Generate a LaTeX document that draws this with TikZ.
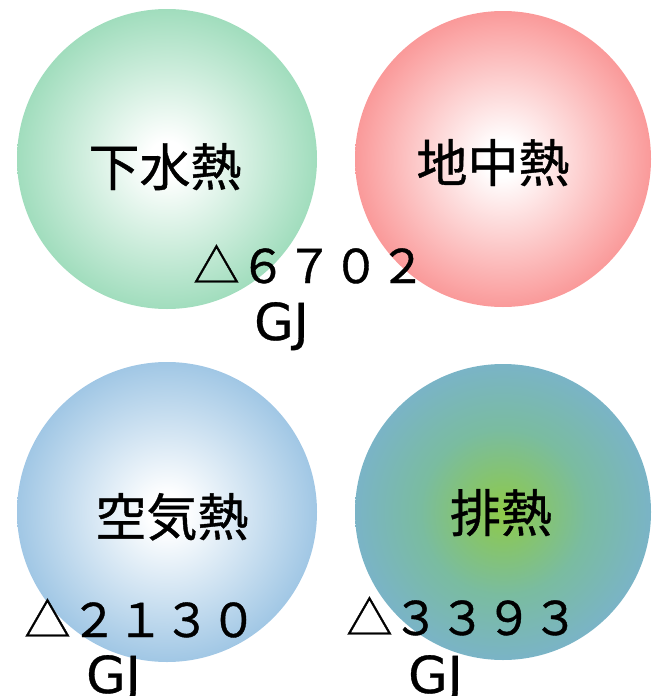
\documentclass[tikz,border=0pt]{standalone}
\usepackage{fontspec}
\newfontfamily\cjk[FakeBold=0.8]{Noto Sans CJK JP}
\newfontfamily\latn[FakeBold=0.6]{DejaVu Sans}
\definecolor{greenout}{RGB}{122,207,162}
\definecolor{redout}{RGB}{248,112,112}
\definecolor{blueout}{RGB}{122,176,218}
\definecolor{ballblue}{RGB}{122,176,216}
\definecolor{ballmid}{RGB}{122,188,160}
\definecolor{ballcore}{RGB}{142,202,72}
\pgfdeclareradialshading{greenball}{\pgfpointorigin}{color(0bp)=(white);color(3bp)=(white);color(34bp)=(greenout);color(50bp)=(greenout)}
\pgfdeclareradialshading{redball}{\pgfpointorigin}{color(0bp)=(white);color(3bp)=(white);color(34bp)=(redout);color(50bp)=(redout)}
\pgfdeclareradialshading{blueball}{\pgfpointorigin}{color(0bp)=(white);color(3bp)=(white);color(34bp)=(blueout);color(50bp)=(blueout)}
\pgfdeclareradialshading{mixball}{\pgfpointorigin}{color(0bp)=(ballcore);color(14bp)=(ballmid);color(30bp)=(ballblue);color(50bp)=(ballblue)}
\begin{document}
\begin{tikzpicture}[x=1pt,y=-1pt,
  ball/.style={circle,inner sep=0pt,minimum size=300pt,shade,shading=#1},
  title/.style={inner sep=0pt,anchor=base,font=\cjk\fontsize{51}{60}\selectfont},
  amount/.style={inner sep=0pt,anchor=base west,font=\cjk\fontsize{46.5}{54}\selectfont},
  unit/.style={inner sep=0pt,anchor=base west,font=\latn\fontsize{51}{58}\selectfont}]
\useasboundingbox (0,0) rectangle (651,696);
\node[ball=greenball] (sewer) at (167,159) {};
\node[ball=redball,minimum size=296pt] (ground) at (503,159) {};
\node[ball=blueball] (air) at (167,512) {};
\node[ball=mixball,minimum size=296pt] (waste) at (503,512) {};
\node[title] (sewerlabel) at (165,186) {下水熱};
\node[title] (groundlabel) at (493,182) {地中熱};
\node[title] (airlabel) at (172,536) {空気熱};
\node[title] (wastelabel) at (501,532) {排熱};
\node[amount] (amount1) at (193,283) {△６７０２};
\node[unit] (unit1) at (254,340) {GJ};
\node[amount] (amount2) at (24,637) {△２１３０};
\node[unit] (unit2) at (86,693) {GJ};
\node[amount] (amount3) at (346,635) {△３３９３};
\node[unit] (unit3) at (408,693) {GJ};
\end{tikzpicture}
\end{document}
